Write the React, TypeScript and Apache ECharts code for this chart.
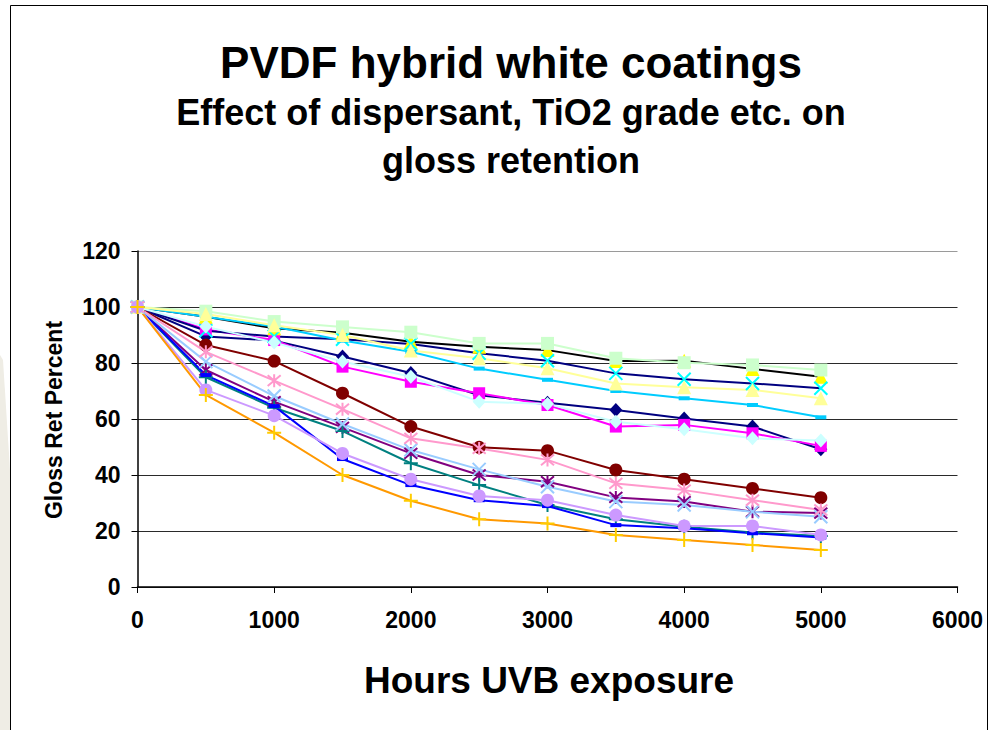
import React, { useEffect, useRef } from "react";
import * as echarts from "echarts";

const hours = [0, 500, 1000, 1500, 2000, 2500, 3000, 3500, 4000, 4500, 5000];

const s01NavyDiamond = [100, 89.5, 88, 82.3, 76.4, 68.5, 65.8, 63.2, 60.2, 57.3, 49.2];
const s02MagentaSquare = [100, 92, 88.2, 78.7, 73.3, 69.2, 65, 57.3, 57.9, 54.9, 50.4];
const s03YellowTriangle = [100, 96.5, 92.4, 90.8, 87.6, 85.8, 84.6, 80.7, 80.8, 77.9, 75.1];
const s04CyanX = [100, 91.5, 89.5, 88.5, 86.8, 83.5, 80.8, 76.3, 74.2, 72.7, 71];
const s05PurpleStar = [100, 77.5, 66.2, 57, 47.7, 40, 37.6, 32, 30.5, 26.9, 26.4];
const s06MaroonCircle = [100, 86.4, 80.7, 69.2, 57.3, 49.9, 48.7, 41.8, 38.5, 35.2, 31.9];
const s07TealPlus = [100, 74.9, 64, 55.7, 44.2, 36.4, 29.3, 24.2, 21.5, 19.5, 18.2];
const s08BlueDash = [100, 75.7, 64.6, 45.7, 36.4, 31, 28.9, 22.1, 21, 19.2, 17.7];
const s09SkyDash = [100, 96.5, 93, 88, 84, 78, 74, 70, 67.4, 65, 60.6];
const s10TurquoiseDiamond = [100, 93, 87.3, 80.5, 75.1, 66.2, 65.4, 59, 56.3, 53.1, 52.3];
const s11GreenSquare = [100, 98.5, 94.8, 92.9, 91, 87, 87, 81.7, 80.1, 79.3, 77.5];
const s12LightYellowTriangle = [100, 97.5, 93.5, 90, 84.5, 81.7, 78.1, 72.7, 71.3, 70.4, 67.4];
const s13PaleBlueX = [100, 80.5, 68.2, 58.2, 48.9, 42, 35.8, 30.5, 29.3, 26.9, 25.1];
const s14RoseStar = [100, 84, 73.7, 63.5, 53.1, 49.5, 45.4, 37, 34.6, 31, 27.5];
const s15LavenderCircle = [100, 70.4, 61.2, 47.7, 38.5, 32.5, 31, 25.7, 21.8, 21.8, 18.6];
const s16OrangePlus = [100, 68.6, 55.1, 40, 30.8, 24.2, 22.7, 18.6, 16.8, 15, 13.2];

const yTicks = [0, 20, 40, 60, 80, 100, 120];
const xTicks = [0, 1000, 2000, 3000, 4000, 5000, 6000];

const titleText = "PVDF hybrid white coatings";
const subLine1 = "Effect of dispersant, TiO2 grade etc. on";
const subLine2 = "gloss retention";
const xName = "Hours UVB exposure";
const yName = "Gloss Ret Percent";

const X_PATH = "path://M0,0L10,10M10,0L0,10";
const STAR_PATH = "path://M0,0L10,10M10,0L0,10M5,-1L5,11";
const PLUS_PATH = "path://M5,0L5,10M0,5L10,5";

type Def = {
  name: string;
  data: number[];
  line: string;
  marker: string;
  symbol: string;
  size: number | number[];
  stroke?: boolean;
};

const defs: Def[] = [
  { name: "1", data: s01NavyDiamond, line: "#000080", marker: "#000080", symbol: "diamond", size: [13, 14] },
  { name: "2", data: s02MagentaSquare, line: "#FF00FF", marker: "#FF00FF", symbol: "rect", size: 12 },
  { name: "3", data: s03YellowTriangle, line: "#000000", marker: "#FFFF00", symbol: "triangle", size: 14 },
  { name: "4", data: s04CyanX, line: "#000080", marker: "#00FFFF", symbol: X_PATH, size: 13, stroke: true },
  { name: "5", data: s05PurpleStar, line: "#800080", marker: "#800080", symbol: STAR_PATH, size: 13, stroke: true },
  { name: "6", data: s06MaroonCircle, line: "#800000", marker: "#800000", symbol: "circle", size: 13 },
  { name: "7", data: s07TealPlus, line: "#008080", marker: "#008080", symbol: PLUS_PATH, size: 14, stroke: true },
  { name: "8", data: s08BlueDash, line: "#0000FF", marker: "#0000FF", symbol: "rect", size: [11, 4] },
  { name: "9", data: s09SkyDash, line: "#00CCFF", marker: "#00CCFF", symbol: "rect", size: [11, 4] },
  { name: "10", data: s10TurquoiseDiamond, line: "#CCFFFF", marker: "#CCFFFF", symbol: "diamond", size: [13, 14] },
  { name: "11", data: s11GreenSquare, line: "#CCFFCC", marker: "#CCFFCC", symbol: "rect", size: 13 },
  { name: "12", data: s12LightYellowTriangle, line: "#FFFF99", marker: "#FFFF99", symbol: "triangle", size: 14 },
  { name: "13", data: s13PaleBlueX, line: "#99CCFF", marker: "#99CCFF", symbol: X_PATH, size: 13, stroke: true },
  { name: "14", data: s14RoseStar, line: "#FF99CC", marker: "#FF99CC", symbol: STAR_PATH, size: 13, stroke: true },
  { name: "15", data: s15LavenderCircle, line: "#CC99FF", marker: "#CC99FF", symbol: "circle", size: 13 },
  { name: "16", data: s16OrangePlus, line: "#FF9900", marker: "#FFCC00", symbol: PLUS_PATH, size: 14, stroke: true },
];

const FONT = '"Liberation Sans", Arial, Helvetica, sans-serif';

export default function App() {
  const ref = useRef<HTMLDivElement>(null);
  useEffect(() => {
    if (!ref.current) return;
    const chart = echarts.init(ref.current, undefined, { renderer: "svg" });
    const gridLeft = 137.5;
    const gridRight = 994 - 957.5;
    const gridTop = 251;
    const gridBottom = 730 - 587;
    const splitColors = yTicks.map((t, i) => (i === yTicks.length - 1 ? "#9a9a9a" : "#2a2a2a"));
    chart.setOption({
      animation: false,
      backgroundColor: "#ffffff",
      grid: { left: gridLeft, right: gridRight, top: gridTop, bottom: gridBottom, containLabel: false },
      xAxis: {
        type: "value",
        min: xTicks[0],
        max: xTicks[xTicks.length - 1],
        interval: 1000,
        axisLine: { show: true, onZero: false, lineStyle: { color: "#000", width: 1.5 } },
        axisTick: { show: true, length: 6, lineStyle: { color: "#000", width: 1 } },
        splitLine: { show: false },
        axisLabel: {
          margin: 21,
          fontFamily: FONT,
          fontWeight: "bold",
          fontSize: 23,
          color: "#000",
          formatter: (v: number) => String(v),
        },
      },
      yAxis: {
        type: "value",
        min: yTicks[0],
        max: yTicks[yTicks.length - 1],
        interval: 20,
        axisLine: { show: true, onZero: false, lineStyle: { color: "#000", width: 1.5 } },
        axisTick: { show: true, length: 6, lineStyle: { color: "#000", width: 1 } },
        splitLine: { show: true, lineStyle: { color: splitColors, width: 1 } },
        axisLabel: {
          margin: 17,
          fontFamily: FONT,
          fontWeight: "bold",
          fontSize: 23,
          color: "#000",
          formatter: (v: number) => String(v),
        },
      },
      graphic: [
        { type: "polygon", shape: { points: [[0, 355], [3, 360], [10, 470], [10, 730], [0, 730]] }, style: { fill: "#efede5" }, z: -1 },
        { type: "line", shape: { x1: 10.5, y1: 5.5, x2: 987.5, y2: 5.5 }, style: { stroke: "#000", lineWidth: 1 } },
        { type: "line", shape: { x1: 10.5, y1: 5.5, x2: 10.5, y2: 730 }, style: { stroke: "#000", lineWidth: 1 } },
        { type: "line", shape: { x1: 987.5, y1: 5.5, x2: 987.5, y2: 730 }, style: { stroke: "#000", lineWidth: 1 } },
        { type: "text", x: 511, y: 62, style: { text: titleText, font: `bold 44px ${FONT}`, fill: "#000", textAlign: "center", textVerticalAlign: "middle" } },
        { type: "text", x: 511, y: 112, style: { text: subLine1, font: `bold 36px ${FONT}`, fill: "#000", textAlign: "center", textVerticalAlign: "middle" } },
        { type: "text", x: 511, y: 160, style: { text: subLine2, font: `bold 36px ${FONT}`, fill: "#000", textAlign: "center", textVerticalAlign: "middle" } },
        { type: "text", x: 549, y: 680, style: { text: xName, font: `bold 37px ${FONT}`, fill: "#000", textAlign: "center", textVerticalAlign: "middle" } },
        { type: "text", x: 54, y: 420, rotation: Math.PI / 2, style: { text: yName, font: `bold 23px ${FONT}`, fill: "#000", textAlign: "center", textVerticalAlign: "middle" } },
      ],
      series: defs.map((d) => ({
        name: d.name,
        type: "line",
        data: hours.map((h, i) => [h, d.data[i]]),
        symbol: d.symbol,
        symbolSize: d.size,
        showAllSymbol: true,
        lineStyle: { color: d.line, width: 2 },
        itemStyle: d.stroke
          ? { color: d.marker, borderColor: d.marker, borderWidth: 2 }
          : { color: d.marker, borderWidth: 0 },
        emphasis: { disabled: true },
      })),
    });
    return () => chart.dispose();
  }, []);
  return <div ref={ref} style={{ position: "fixed", left: 0, top: 0, width: 994, height: 730 }} />;
}
